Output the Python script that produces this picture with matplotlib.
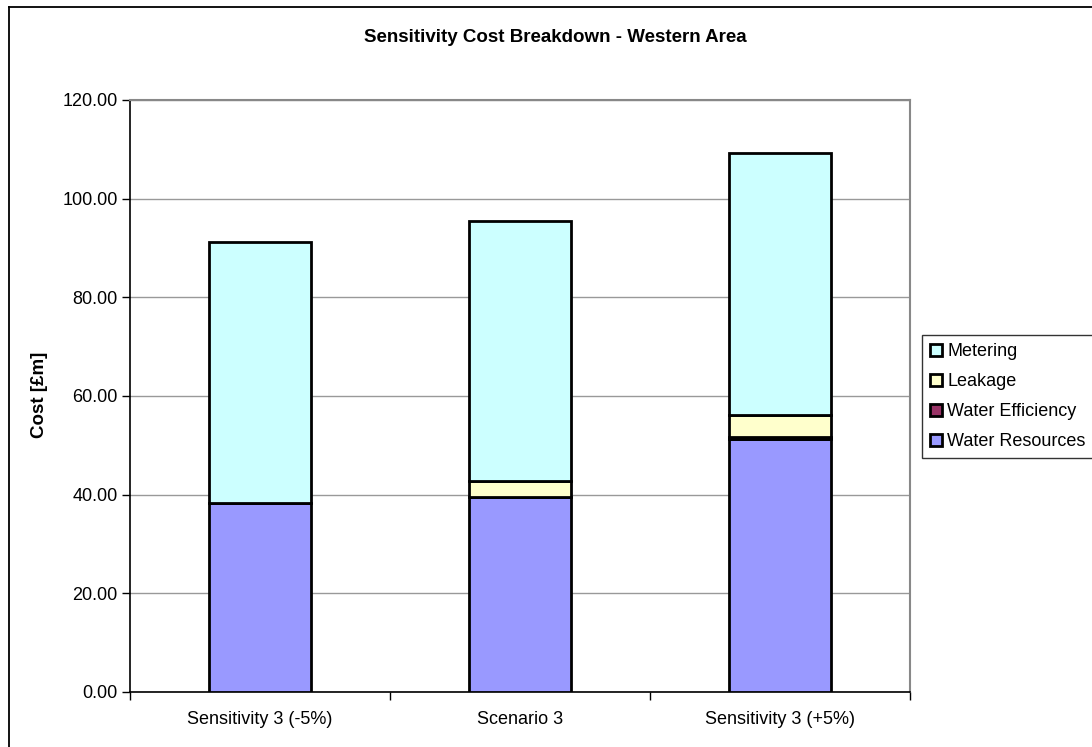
import matplotlib
matplotlib.use("Agg")
import matplotlib.pyplot as plt
from matplotlib.lines import Line2D
import numpy as np

categories = ["Sensitivity 3 (-5%)", "Scenario 3", "Sensitivity 3 (+5%)"]
water_resources = [38.3, 39.5, 51.2]
water_efficiency = [0.0, 0.0, 0.5]
leakage = [0.0, 3.2, 4.5]
metering = [52.9, 52.8, 53.0]

series = [
    ("Water Resources", water_resources, "#9999FF"),
    ("Water Efficiency", water_efficiency, "#993366"),
    ("Leakage", leakage, "#FFFFCC"),
    ("Metering", metering, "#CCFFFF"),
]
y_ticks = [0, 20, 40, 60, 80, 100, 120]

plt.rcParams["font.family"] = ["Liberation Sans", "DejaVu Sans"]

fig = plt.figure(figsize=(10.92, 7.47), dpi=100)
W, H = 1092, 747
ax = fig.add_axes([130 / W, 1 - 692 / H, 780 / W, 592 / H])

# chart-area frame (left and top edges)
fig.add_artist(Line2D([9 / W, 9 / W], [0, 1 - 7 / H], transform=fig.transFigure,
                      color="black", linewidth=1.3))
fig.add_artist(Line2D([9 / W, 1], [1 - 7 / H, 1 - 7 / H], transform=fig.transFigure,
                      color="black", linewidth=1.3))

x = np.arange(len(categories))
bottom = np.zeros(len(categories))
handles = {}
for name, vals, color in series:
    vals = np.array(vals)
    h = ax.bar(x, vals, width=0.395, bottom=bottom, color=color,
               edgecolor="black", linewidth=2.0, label=name, zorder=3)
    handles[name] = h
    bottom = bottom + vals

ax.set_xlim(-0.5, 2.5)
ax.set_ylim(0, 120)
ax.set_yticks(y_ticks)
ax.set_yticklabels([f"{v:.2f}" for v in y_ticks], fontsize=13)
ax.yaxis.grid(True, color="#999999", linewidth=1.0, zorder=0)
ax.set_axisbelow(True)

ax.set_xticks(x)
ax.set_xticklabels(categories, fontsize=13)
ax.tick_params(axis="x", length=0, pad=14)
ax.set_xticks([-0.5, 0.5, 1.5, 2.5], minor=True)
ax.tick_params(axis="x", which="minor", length=6, width=1, color="black")
ax.tick_params(axis="y", length=6, width=1, color="black", pad=3)

for side in ("top", "right"):
    ax.spines[side].set_color("#888888")
    ax.spines[side].set_linewidth(1.5)
for side in ("left", "bottom"):
    ax.spines[side].set_color("black")
    ax.spines[side].set_linewidth(1.2)

fig.text(40 / W, 1 - 395 / H, "Cost [£m]", rotation=90, ha="center", va="center",
         fontsize=13.5, fontweight="bold")
fig.text(555 / W, 1 - 37 / H, "Sensitivity Cost Breakdown - Western Area",
         ha="center", va="center", fontsize=13.5, fontweight="bold")

order = ["Metering", "Leakage", "Water Efficiency", "Water Resources"]
leg = fig.legend([handles[n] for n in order], order,
                 loc="upper left", bbox_to_anchor=(922 / W, 1 - 335 / H),
                 fontsize=13, frameon=True, fancybox=False,
                 edgecolor="black", handlelength=0.65, handleheight=0.65,
                 handletextpad=0.3, borderpad=0.45, labelspacing=0.72,
                 borderaxespad=0)
leg.get_frame().set_linewidth(1.0)

fig.savefig("out.png", dpi=100)
